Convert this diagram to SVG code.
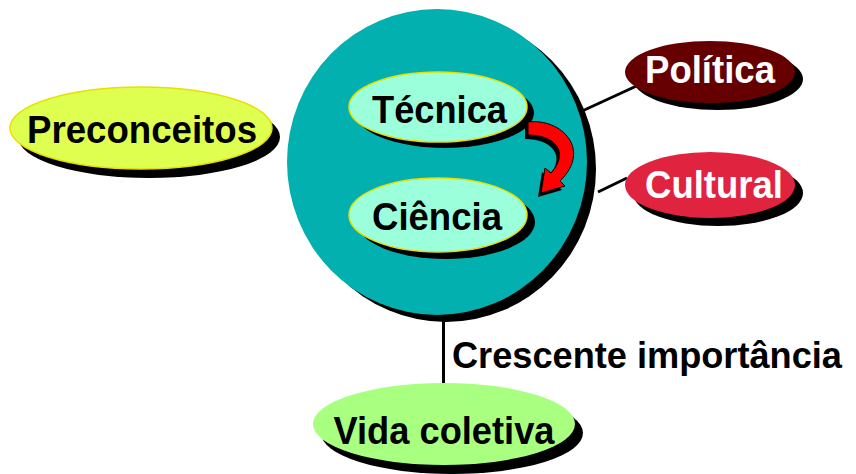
<svg xmlns="http://www.w3.org/2000/svg" width="856" height="474" viewBox="0 0 856 474">
<style>
.t{font-family:"Liberation Sans",Arial,sans-serif;font-weight:bold;font-size:38px;text-anchor:middle}
.dk{fill:#000}
.wh{fill:#fff}
.sh{fill:#000}
.ln{stroke:#000;stroke-width:3;fill:none}
</style>
<rect width="856" height="474" fill="#fff"/>
<g id="connectors">
<line class="ln" x1="580" y1="112" x2="643" y2="83"/>
<line class="ln" x1="598" y1="192" x2="627" y2="178"/>
<line class="ln" x1="443.5" y1="318" x2="443.5" y2="386"/>
</g>
<g id="circle">
<ellipse class="sh" cx="446" cy="169" rx="150" ry="153"/>
<ellipse cx="437" cy="162" rx="150" ry="153" fill="#03B0B0"/>
</g>
<g id="tecnica">
<ellipse class="sh" cx="445" cy="113" rx="89" ry="35"/>
<ellipse cx="438" cy="107" rx="89" ry="35" fill="#9CFFDC" stroke="#E8E000" stroke-width="1.5"/>
<text class="t dk" x="439.5" y="123" textLength="135" lengthAdjust="spacingAndGlyphs">Técnica</text>
</g>
<g id="ciencia">
<ellipse class="sh" cx="446" cy="222" rx="89" ry="37"/>
<ellipse cx="438" cy="215" rx="89" ry="37" fill="#9CFFDC" stroke="#E8E000" stroke-width="1.5"/>
<text class="t dk" x="437" y="230" textLength="130" lengthAdjust="spacingAndGlyphs">Ciência</text>
</g>
<g id="arrow">
<path transform="translate(-3,4)" d="M528,122 C562,118 592,150 560,181 L565,186 L541,193 L545,168 L551,173 C570,152 555,135 528,135 Z" fill="#000"/>
<path d="M528,122 C562,118 592,150 560,181 L565,186 L541,193 L545,168 L551,173 C570,152 555,135 528,135 Z" fill="#FF0000" stroke="#000" stroke-width="1"/>
</g>
<g id="politica">
<ellipse class="sh" cx="718" cy="79" rx="85" ry="31"/>
<ellipse cx="710" cy="72" rx="85" ry="31" fill="#660000"/>
<text class="t wh" x="710" y="83" textLength="130" lengthAdjust="spacingAndGlyphs">Política</text>
</g>
<g id="cultural">
<ellipse class="sh" cx="718" cy="193" rx="85" ry="33"/>
<ellipse cx="710" cy="185" rx="85" ry="33" fill="#E0243F"/>
<text class="t wh" x="714" y="198" textLength="138" lengthAdjust="spacingAndGlyphs">Cultural</text>
</g>
<g id="preconceitos">
<ellipse class="sh" cx="149" cy="137" rx="131" ry="41"/>
<ellipse cx="141" cy="128" rx="131" ry="41" fill="#DFFF50" stroke="#E8E000" stroke-width="1.5"/>
<text class="t dk" x="142" y="143" textLength="230" lengthAdjust="spacingAndGlyphs">Preconceitos</text>
</g>
<g id="vida">
<ellipse class="sh" cx="452" cy="433" rx="131" ry="41"/>
<ellipse cx="444" cy="424" rx="131" ry="41" fill="#A8FF80"/>
<text class="t dk" x="444" y="444" textLength="221" lengthAdjust="spacingAndGlyphs">Vida coletiva</text>
</g>
<g id="label">
<text class="t dk" x="452" y="368" style="text-anchor:start;font-size:36px" textLength="390" lengthAdjust="spacingAndGlyphs">Crescente importância</text>
</g>
</svg>
